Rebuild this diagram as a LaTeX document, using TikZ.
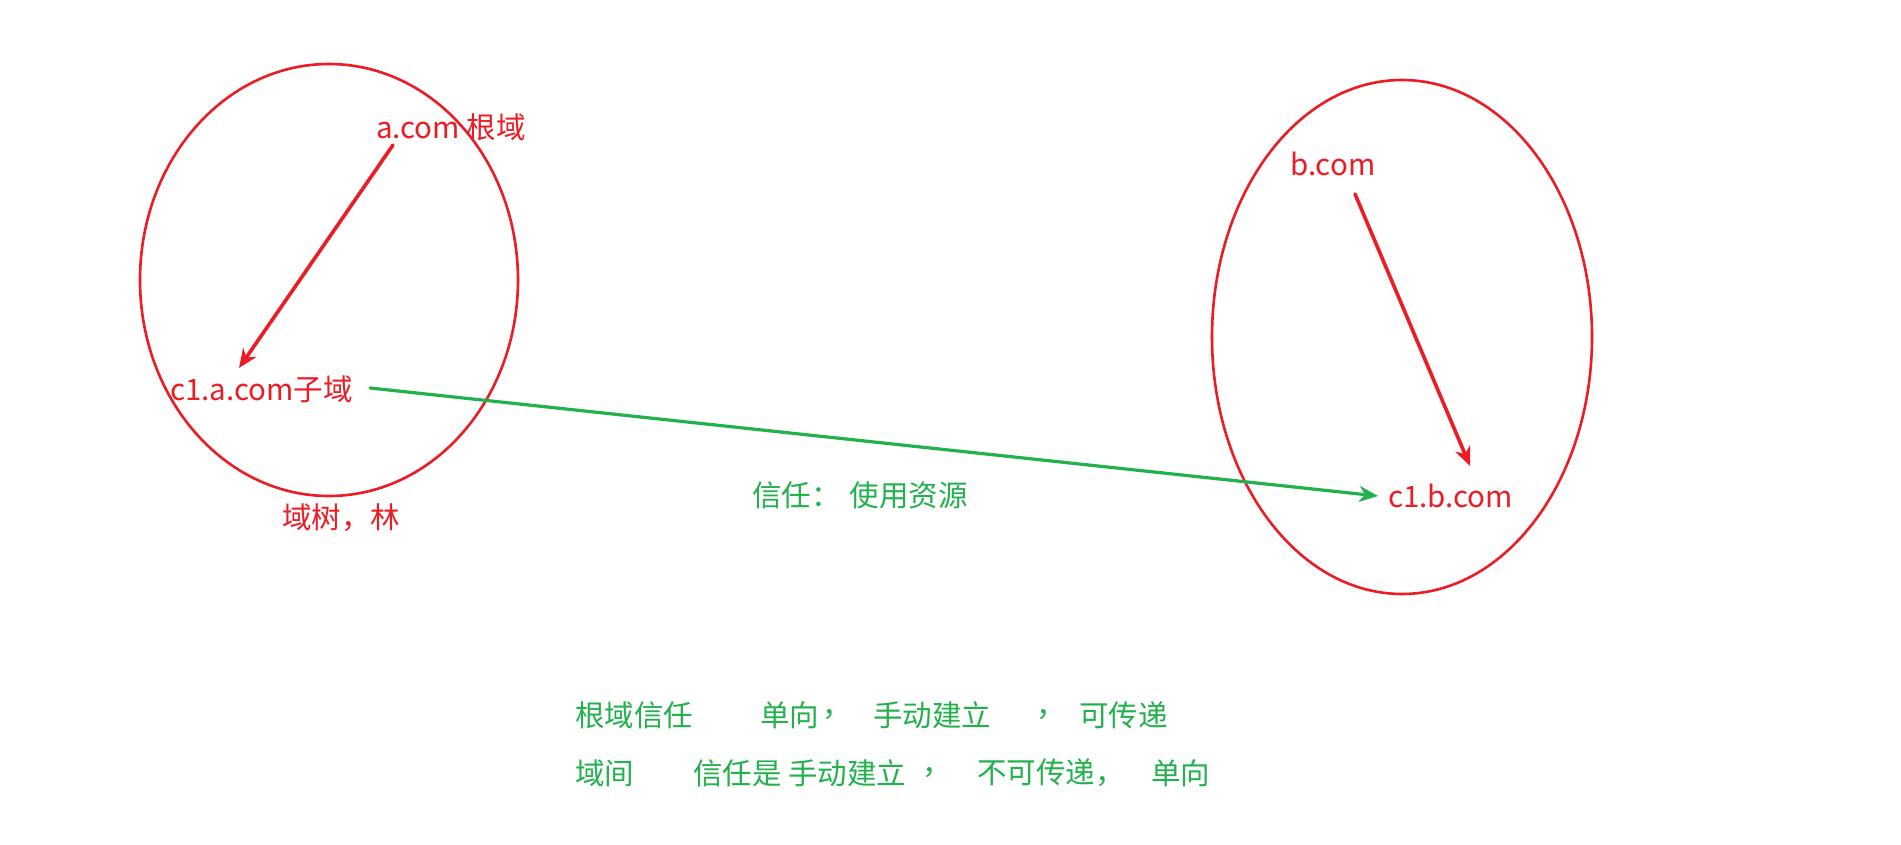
\documentclass[tikz,border=0pt]{standalone}
\usepackage{fontspec}
\setmainfont{Noto Sans CJK SC}
\usetikzlibrary{arrows.meta}
\definecolor{domred}{HTML}{ED1C24}
\definecolor{trustgreen}{HTML}{22B14C}
\tikzset{
  forestring/.style={draw=domred, line width=2.6pt},
  redlabel/.style={text=domred, font=\fontsize{29.5}{33}\selectfont, anchor=west, inner sep=0pt},
  greenlabel/.style={text=trustgreen, font=\fontsize{29.5}{33}\selectfont, anchor=west, inner sep=0pt},
  childarrow/.style={draw=domred, line width=3.6pt, line cap=round, -{Stealth[length=19pt,width=16pt]}},
  trustarrow/.style={draw=trustgreen, line width=3.2pt, line cap=round, -{Stealth[length=19pt,width=16pt]}}
}
\begin{document}
\begin{tikzpicture}[x=1pt,y=-1pt]
  \useasboundingbox[fill=white] (0,0) rectangle (1901,845);
  % two forests
  \draw[forestring] (329,280) ellipse [x radius=189, y radius=216];
  \draw[forestring] (1402,337) ellipse [x radius=190, y radius=257];
  % domain names
  \node[redlabel] (acom) at (376,127) {a.com 根域};
  \node[redlabel] (c1acom) at (170,389) {c1.a.com子域};
  \node[redlabel] (bcom) at (1290,164) {b.com};
  \node[redlabel] (c1bcom) at (1388,496) {c1.b.com};
  \node[redlabel] (tree) at (282,518) {域树，林};
  \node[greenlabel] (trust) at (752,495) {信任：\hspace{0.3em}使用资源};
  % arrow ends
  \coordinate (atail) at (393,145);
  \coordinate (ahead) at (239,368);
  \coordinate (btail) at (1355,194);
  \coordinate (bhead) at (1470,466);
  \coordinate (gtail) at (370,388);
  \coordinate (ghead) at (1378,496);
  \draw[childarrow] (atail) -- (ahead);
  \draw[childarrow] (btail) -- (bhead);
  \draw[trustarrow] (gtail) -- (ghead);
  % notes
  \node[greenlabel] (roota) at (575,715) {根域信任};
  \node[greenlabel] (rootb) at (760,715) {单向};
  \node[greenlabel] (rootc) at (822,715) {，};
  \node[greenlabel] (rootd) at (873,715) {手动建立};
  \node[greenlabel] (roote) at (1036,715) {，};
  \node[greenlabel] (rootf) at (1079,715) {可传递};
  \node[greenlabel] (intera) at (575,773) {域间};
  \node[greenlabel] (interb) at (693,773) {信任是 手动建立};
  \node[greenlabel] (interc) at (922,773) {，};
  \node[greenlabel] (interd) at (977,773) {不可传递，};
  \node[greenlabel] (intere) at (1151,773) {单向};
\end{tikzpicture}
\end{document}
